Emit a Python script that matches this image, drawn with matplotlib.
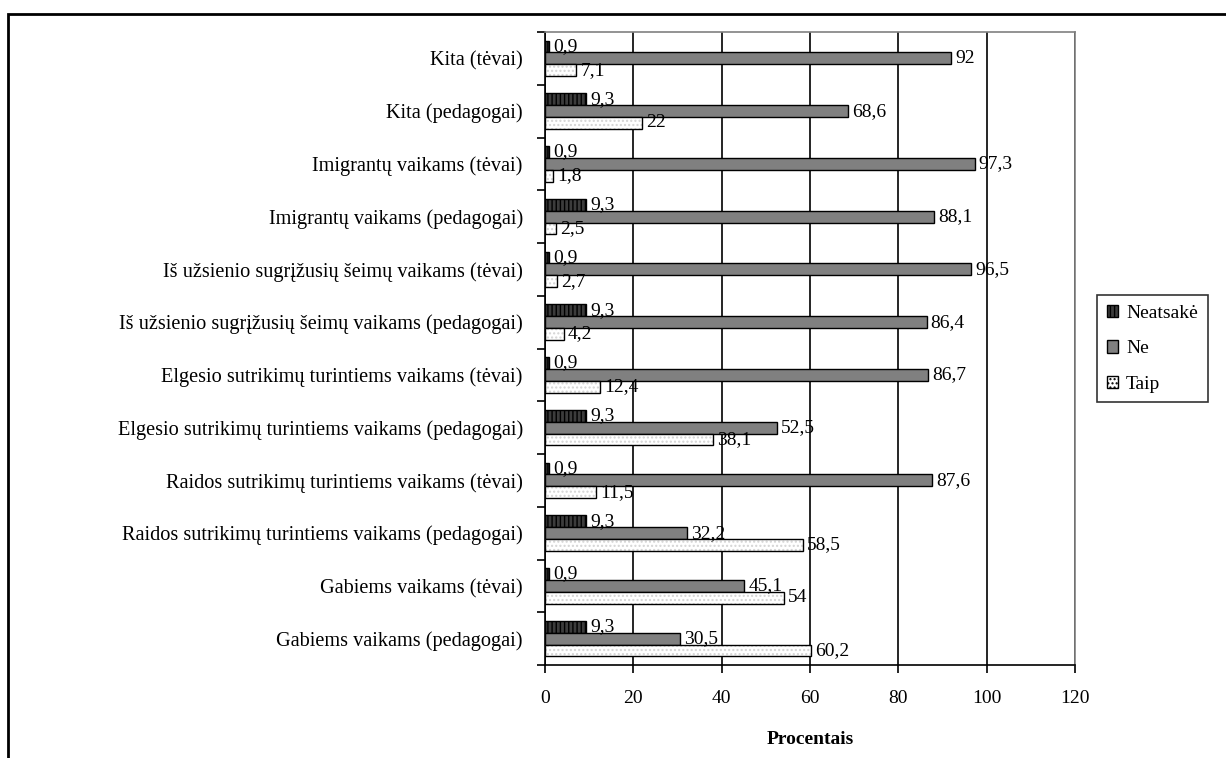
import matplotlib
matplotlib.use("Agg")
import matplotlib.pyplot as plt
import matplotlib.patches as mpatches
import numpy as np

plt.rcParams['font.family'] = ['Liberation Serif', 'DejaVu Serif']

categories = [
    "Gabiems vaikams (pedagogai)",
    "Gabiems vaikams (tėvai)",
    "Raidos sutrikimų turintiems vaikams (pedagogai)",
    "Raidos sutrikimų turintiems vaikams (tėvai)",
    "Elgesio sutrikimų turintiems vaikams (pedagogai)",
    "Elgesio sutrikimų turintiems vaikams (tėvai)",
    "Iš užsienio sugrįžusių šeimų vaikams (pedagogai)",
    "Iš užsienio sugrįžusių šeimų vaikams (tėvai)",
    "Imigrantų vaikams (pedagogai)",
    "Imigrantų vaikams (tėvai)",
    "Kita (pedagogai)",
    "Kita (tėvai)",
]
neatsake = [9.3, 0.9, 9.3, 0.9, 9.3, 0.9, 9.3, 0.9, 9.3, 0.9, 9.3, 0.9]
ne = [30.5, 45.1, 32.2, 87.6, 52.5, 86.7, 86.4, 96.5, 88.1, 97.3, 68.6, 92]
taip = [60.2, 54, 58.5, 11.5, 38.1, 12.4, 4.2, 2.7, 2.5, 1.8, 22, 7.1]
series_names = ["Neatsakė", "Ne", "Taip"]
xticks = [0, 20, 40, 60, 80, 100, 120]
xlabel = "Procentais"

W, H = 1226, 758
fig = plt.figure(figsize=(W / 100, H / 100), dpi=100)
ax = fig.add_axes([545 / W, 1 - 665 / H, (1075 - 545) / W, (665 - 32) / H])

y = np.arange(len(categories))
bh = 0.225
offsets = [bh, 0, -bh]
fs = 14

def fmt(v):
    return ("%g" % v).replace(".", ",")

# Neatsakė
ax.barh(y + offsets[0], neatsake, height=bh, color='#3c3c3c', edgecolor='black',
        hatch='||||', linewidth=1.0, zorder=3)
# Ne
ax.barh(y + offsets[1], ne, height=bh, color='#808080', edgecolor='black',
        linewidth=1.0, zorder=3)
# Taip: light dotted fill then black outline
ax.barh(y + offsets[2], taip, height=bh, color='white', edgecolor='#d4d4d4',
        hatch='....', linewidth=0, zorder=3)
ax.barh(y + offsets[2], taip, height=bh, fill=False, edgecolor='black',
        linewidth=1.0, zorder=4)

for vals, off in zip([neatsake, ne, taip], offsets):
    for yi, v in zip(y, vals):
        ax.text(v + 0.9, yi + off, fmt(v), va='center', ha='left', fontsize=fs, zorder=5)

ax.set_xlim(0, 120)
ax.set_ylim(-0.5, len(categories) - 0.5)
ax.set_xticks(xticks)
ax.set_xticklabels([str(t) for t in xticks], fontsize=fs)
ax.set_yticks(y)
ax.set_yticklabels(categories, fontsize=14.6)
ax.tick_params(axis='y', length=0, pad=16)
ax.set_yticks(np.arange(-0.5, len(categories), 1), minor=True)
ax.tick_params(axis='y', which='minor', length=6, direction='out', width=1.2)
ax.tick_params(axis='x', length=6, direction='out', width=1.2, pad=12)
ax.xaxis.grid(True, color='black', linewidth=1.2, zorder=0)
ax.set_axisbelow(True)
for s in ['top', 'right']:
    ax.spines[s].set_color('#808080')
    ax.spines[s].set_linewidth(1.2)
for s in ['left', 'bottom']:
    ax.spines[s].set_color('black')
    ax.spines[s].set_linewidth(1.2)
ax.set_xlabel(xlabel, fontsize=fs, fontweight='bold', labelpad=17)

# legend
h1 = mpatches.Patch(facecolor='#3c3c3c', edgecolor='black', hatch='||||')
h2 = mpatches.Patch(facecolor='#808080', edgecolor='black')
h3 = mpatches.Patch(facecolor='white', edgecolor='black', hatch='....')
leg = fig.legend([h1, h2, h3], series_names, loc='upper left',
                 bbox_to_anchor=(1097 / W, 1 - 295 / H), fontsize=fs,
                 frameon=True, fancybox=False, edgecolor='black',
                 handlelength=0.6, handleheight=0.6, handletextpad=0.4,
                 borderpad=0.5, labelspacing=0.95, borderaxespad=0)
leg.get_frame().set_linewidth(1.2)

# outer border (top and left only visible)
fig.patches.append(mpatches.Rectangle((8 / W, -0.1), 1.2, 1 - 14 / H + 0.1,
                                      transform=fig.transFigure, fill=False,
                                      edgecolor='black', linewidth=2))

fig.savefig("out.png", dpi=100)
